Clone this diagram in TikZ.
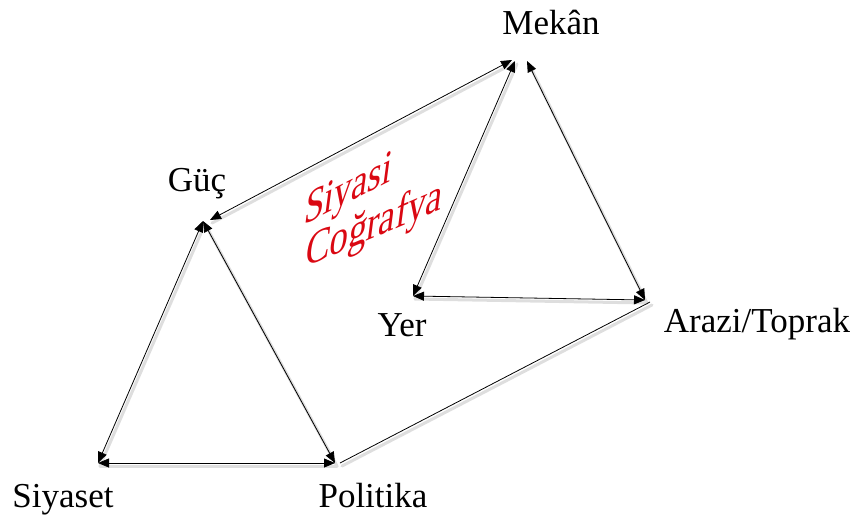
\documentclass[tikz,border=0pt]{standalone}
\usepackage{fontspec}
\setmainfont{Liberation Serif}
\usetikzlibrary{arrows.meta}
\definecolor{wordred}{RGB}{218,8,18}
\tikzset{
  link/.style={draw=black, line width=0.8pt},
  both/.style={link, {Triangle[length=11pt,width=9pt]}-{Triangle[length=11pt,width=9pt]}},
  shadowline/.style={draw=black!13, line width=3pt, line cap=round},
  lbl/.style={font=\fontsize{35}{42}\selectfont, anchor=base, inner sep=0pt},
  redlbl/.style={font=\fontsize{40}{46}\selectfont, text=wordred, inner sep=0pt,
    anchor=base west, transform shape}
}
\begin{document}
\begin{tikzpicture}[x=1pt,y=-1pt]
\useasboundingbox (0,0) rectangle (858,515);
% vertices
\coordinate (gl) at (203,221);
\coordinate (gr) at (210,220);
\coordinate (sy) at (98,463);
\coordinate (po) at (335,463);
\coordinate (pe) at (340,463);
\coordinate (ml) at (515,61);
\coordinate (mg) at (512,60);
\coordinate (mr) at (527,61);
\coordinate (ye) at (413,296);
\coordinate (ar) at (645,300);
\coordinate (ae) at (650,302);
% shadows
\foreach \a/\b in {gl/sy,gl/po,sy/po,pe/ae,gr/mg,ml/ye,mr/ar,ye/ar}{
  \draw[shadowline, transform canvas={shift={(2pt,-3pt)}}] (\a) -- (\b);
}
% connectors
\draw[both] (gl) -- (sy);
\draw[both] (gl) -- (po);
\draw[both] (sy) -- (po);
\draw[link] (pe) -- (ae);
\draw[both] (mg) -- (gr);
\draw[both] (ml) -- (ye);
\draw[both] (mr) -- (ar);
\draw[both] (ye) -- (ar);
% labels
\node[lbl] (mekan) at (551,34) {Mekân};
\node[lbl] (guc) at (197,191) {Güç};
\node[lbl] (yer) at (402,336) {Yer};
\node[lbl] (arazi) at (757,332) {Arazi/Toprak};
\node[lbl] (siyaset) at (63,507) {Siyaset};
\node[lbl] (politika) at (373,507) {Politika};
\node[redlbl, cm={0.891,0.454,0.16,1.22,(0,0)}] (siyasi) at (303,226) {Siyasi};
\node[redlbl, cm={0.920,0.392,0.16,1.22,(0,0)}] (cografya) at (304,268) {Coğrafya};
\end{tikzpicture}
\end{document}
